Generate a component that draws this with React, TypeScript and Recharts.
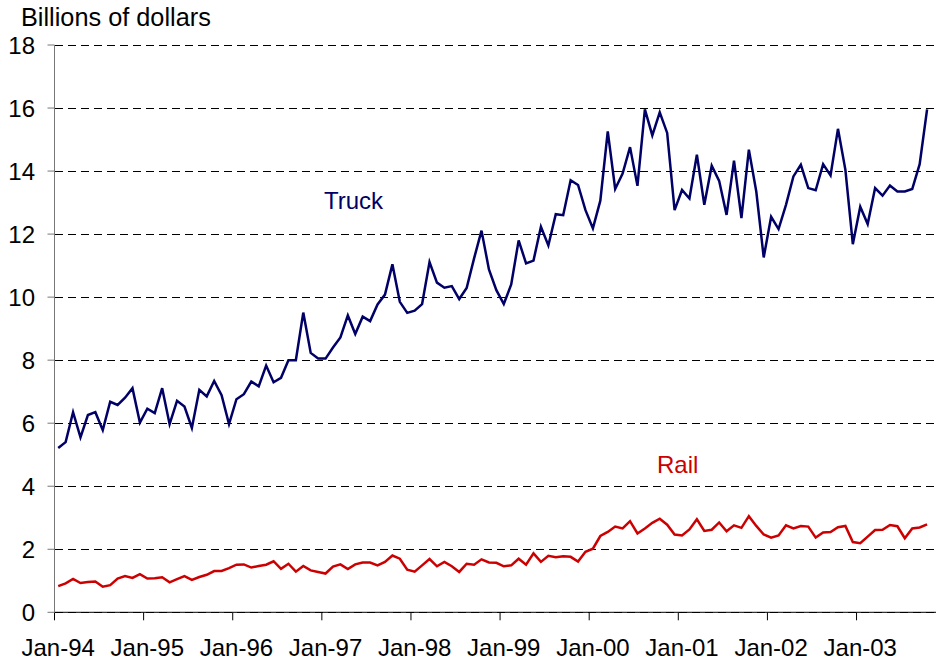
import { LineChart, Line, XAxis, YAxis, CartesianGrid } from "recharts";

// monthly shipments, Jan-94 .. Oct-03 (billions of dollars)
const truck = [
    5.21, 5.40, 6.35, 5.55, 6.26, 6.35, 5.78, 6.68, 6.58, 6.81, 7.11, 6.02,
    6.46, 6.32, 7.11, 5.97, 6.71, 6.53, 5.85, 7.06, 6.85, 7.34, 6.89, 5.97,
    6.76, 6.92, 7.32, 7.17, 7.83, 7.30, 7.44, 8.00, 8.00, 9.51, 8.23, 8.05,
    8.05, 8.40, 8.72, 9.42, 8.83, 9.38, 9.24, 9.77, 10.08, 11.04, 9.85, 9.50,
    9.57, 9.78, 11.11, 10.46, 10.30, 10.35, 9.94, 10.29, 11.23, 12.11, 10.88, 10.22,
    9.78, 10.40, 11.80, 11.07, 11.16, 12.23, 11.64, 12.63, 12.60, 13.71, 13.56, 12.76,
    12.18, 13.06, 15.26, 13.43, 13.92, 14.76, 13.53, 15.96, 15.13, 15.86, 15.21, 12.76,
    13.40, 13.13, 14.52, 12.93, 14.17, 13.69, 12.61, 14.33, 12.51, 14.68, 13.35, 11.26,
    12.55, 12.16, 12.93, 13.83, 14.20, 13.46, 13.39, 14.22, 13.86, 15.34, 14.04, 11.68,
    12.87, 12.32, 13.46, 13.22, 13.54, 13.35, 13.35, 13.43, 14.22, 15.96,
];

const rail = [
    0.83, 0.92, 1.06, 0.93, 0.96, 0.98, 0.81, 0.86, 1.07, 1.15, 1.09, 1.21,
    1.07, 1.08, 1.11, 0.95, 1.05, 1.15, 1.03, 1.12, 1.19, 1.31, 1.31, 1.40,
    1.51, 1.52, 1.42, 1.47, 1.51, 1.62, 1.38, 1.54, 1.29, 1.47, 1.33, 1.28,
    1.23, 1.45, 1.52, 1.37, 1.52, 1.58, 1.58, 1.49, 1.60, 1.80, 1.70, 1.35,
    1.29, 1.49, 1.69, 1.46, 1.60, 1.46, 1.28, 1.54, 1.51, 1.68, 1.58, 1.57,
    1.46, 1.49, 1.70, 1.51, 1.87, 1.60, 1.79, 1.75, 1.78, 1.76, 1.61, 1.92,
    2.02, 2.42, 2.55, 2.72, 2.66, 2.89, 2.50, 2.66, 2.84, 2.97, 2.78, 2.47,
    2.44, 2.63, 2.95, 2.58, 2.62, 2.85, 2.57, 2.76, 2.68, 3.05, 2.74, 2.47,
    2.37, 2.44, 2.76, 2.66, 2.74, 2.72, 2.37, 2.53, 2.55, 2.70, 2.74, 2.23,
    2.19, 2.40, 2.61, 2.62, 2.77, 2.73, 2.35, 2.66, 2.69, 2.79,
];

const yearLabels = [
    "Jan-94", "Jan-95", "Jan-96", "Jan-97", "Jan-98",
    "Jan-99", "Jan-00", "Jan-01", "Jan-02", "Jan-03",
];

const yTicks = [0, 2, 4, 6, 8, 10, 12, 14, 16, 18];

const FONT = "Arial, 'Liberation Sans', sans-serif";
const W = 936;
const H = 661;
const X_MAX = 118.7;

// points sit in the middle of each month slot
const data = truck.map((t, i) => ({ m: i + 0.5, truck: t, rail: rail[i] }));
const xTicks = yearLabels.map((_, i) => i * 12);

function YearTick(props: any) {
    const { x, payload } = props;
    const idx = Math.round(payload.value / 12);
    return (
        <text x={x + 3.7} y={656} textAnchor="middle" fontSize={24} fontFamily={FONT} fill="#000">
            {yearLabels[idx]}
        </text>
    );
}

export default function App() {
    return (
        <div style={{ position: "absolute", left: 0, top: 0, width: W, height: H, background: "#fff" }}>
            <LineChart width={W} height={H} data={data} margin={{ top: 45, right: 0, left: 0, bottom: 8.7 }}>
                <CartesianGrid vertical={false} stroke="#000" strokeDasharray="8 5" shapeRendering="crispEdges" />
                <XAxis
                    dataKey="m"
                    type="number"
                    domain={[0, X_MAX]}
                    ticks={xTicks}
                    height={40}
                    tickSize={8}
                    axisLine={{ stroke: "#000" }}
                    tickLine={{ stroke: "#000" }}
                    tick={<YearTick />}
                    interval={0}
                />
                <YAxis
                    type="number"
                    domain={[0, 18]}
                    ticks={yTicks}
                    width={54.5}
                    tickSize={7}
                    tickMargin={12.5}
                    axisLine={{ stroke: "#777" }}
                    tickLine={{ stroke: "#777" }}
                    tick={{ fontSize: 24, fontFamily: FONT, fill: "#000" }}
                    interval={0}
                />
                <Line dataKey="truck" stroke="#000066" strokeWidth={2.5} dot={false} isAnimationActive={false} />
                <Line dataKey="rail" stroke="#cc0000" strokeWidth={2.5} dot={false} isAnimationActive={false} />
            </LineChart>
            <svg width={W} height={H} style={{ position: "absolute", left: 0, top: 0, pointerEvents: "none" }}>
                <text x={21} y={26} fontSize={25.3} fontFamily={FONT} fill="#000">Billions of dollars</text>
                <text x={324} y={209} fontSize={24} fontFamily={FONT} fill="#000066">Truck</text>
                <text x={657} y={473} fontSize={24} fontFamily={FONT} fill="#cc0000">Rail</text>
            </svg>
        </div>
    );
}
